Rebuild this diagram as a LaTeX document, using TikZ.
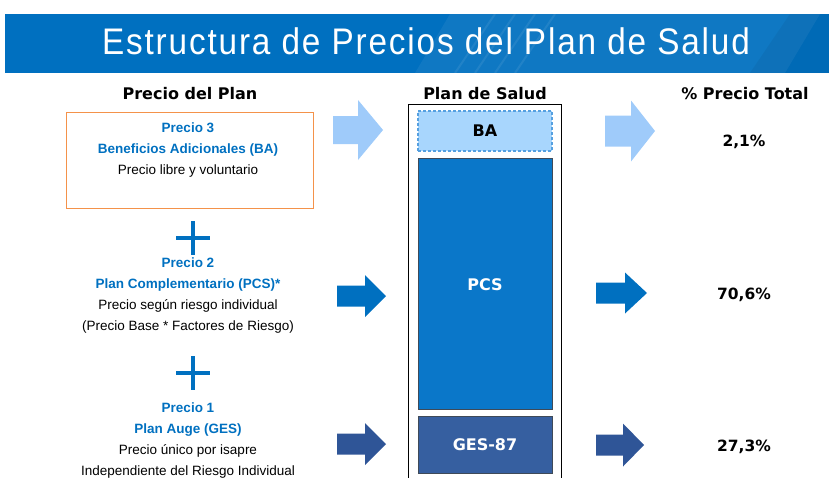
\documentclass[tikz,border=0pt]{standalone}
\usepackage{fontspec}
\setmainfont{Liberation Sans}
\newfontfamily\headfont{DejaVu Sans}
\newfontfamily\titlefont[FakeStretch=0.9, LetterSpace=5]{Liberation Sans}
\usetikzlibrary{positioning}
\definecolor{Banner}{HTML}{0070C0}
\definecolor{TextBlue}{HTML}{0070C0}
\definecolor{LightArrow}{HTML}{9FCBFA}
\definecolor{MidArrow}{HTML}{0070C0}
\definecolor{DarkArrow}{HTML}{2F5597}
\definecolor{BAFill}{HTML}{A8D6FD}
\definecolor{BALine}{HTML}{55A0E0}
\definecolor{PCSFill}{HTML}{0A77C9}
\definecolor{GESFill}{HTML}{365FA0}
\definecolor{BoxLine}{HTML}{3F4A58}
\definecolor{Frame}{HTML}{F4924A}
\tikzset{
	head/.style={font=\headfont\bfseries\fontsize{16}{19}\selectfont},
	pct/.style={font=\headfont\bfseries\fontsize{15.5}{19}\selectfont},
	block/.style={rectangle, draw=BoxLine, line width=1pt, minimum width=134, text=white, font=\headfont\bfseries\fontsize{16}{19}\selectfont},
	price/.style={align=center, inner sep=0, anchor=north, font=\fontsize{13.5}{20.7}\selectfont},
	pics/fatarrow/.style n args={4}{code={
		\fill[pic actions] (0,-#3) -- (#2,-#3) -- (#2,-#4) -- (#1,0) -- (#2,#4) -- (#2,#3) -- (0,#3) -- cycle;}},
	pics/plus/.style={code={
		\draw[line width=4.5, pic actions] (-17,0) -- (17,0) (0,-17) -- (0,17);}},
}
\newcommand{\pblue}[1]{\textcolor{TextBlue}{\bfseries #1}}
\begin{document}
\begin{tikzpicture}[x=1pt, y=-1pt]
	\useasboundingbox (0,0) rectangle (829,477);
	% banner
	\fill[Banner] (5,14) rectangle (829,73);
	\begin{scope}
		\clip (5,14) rectangle (829,73);
		\fill[white, opacity=0.06] (450,14) -- (820,14) -- (785,73) -- (415,73) -- cycle;
		\fill[black, opacity=0.05] (790,14) -- (829,14) -- (829,73) -- (750,73) -- cycle;
		\foreach \x in {455,475,495,515}
			\draw[white, opacity=0.08, line width=2] (\x,73) -- ++(40,-59);
	\end{scope}
	\node (title) [anchor=base, text=white, font=\titlefont\fontsize{37}{40}\selectfont] at (426,54) {Estructura de Precios del Plan de Salud};
	% column heads
	\node (hplan) [head] at (190,94) {Precio del Plan};
	\node (hsalud) [head] at (485,94) {Plan de Salud};
	\node (htotal) [head] at (745,94) {\% Precio Total};
	% left column
	\node (p3box) [draw=Frame, line width=1pt, minimum width=247, minimum height=96] at (189.5,160) {};
	\node (p3) [price] at (188,123) {\pblue{Precio 3}\\ \pblue{Beneficios Adicionales (BA)}\\ Precio libre y voluntario};
	\pic (plus1) [draw=TextBlue] at (193,238) {plus};
	\node (p2) [price] at (188,258) {\pblue{Precio 2}\\ \pblue{Plan Complementario (PCS)*}\\ Precio según riesgo individual\\ (Precio Base * Factores de Riesgo)};
	\pic (plus2) [draw=TextBlue] at (193,373) {plus};
	\node (p1) [price] at (188,403) {\pblue{Precio 1}\\ \pblue{Plan Auge (GES)}\\ Precio único por isapre\\ Independiente del Riesgo Individual};
	% plan de salud
	\draw[line width=1pt] (408,480) -- (408,104) -- (561,104) -- (561,480);
	\node (ba) [block, draw=BALine, dash pattern=on 3pt off 2pt, line width=1.4pt, fill=BAFill, text=black, minimum height=40] at (485,131) {BA};
	\node (pcs) [block, fill=PCSFill, minimum height=251] at (485,283.5) {};
	\node (pcslabel) [text=white, font=\headfont\bfseries\fontsize{16}{19}\selectfont] at (485,285) {PCS};
	\node (ges) [block, fill=GESFill, minimum height=57] at (485,444.5) {GES-87};
	% arrows
	\pic (la1) [fill=LightArrow] at (333,130) {fatarrow={50}{25}{14}{30}};
	\pic (la2) [fill=MidArrow] at (337,296) {fatarrow={49}{28}{10.5}{21}};
	\pic (la3) [fill=DarkArrow] at (337,444) {fatarrow={49}{28}{10.5}{21}};
	\pic (ra1) [fill=LightArrow] at (605,131) {fatarrow={50}{26}{15.5}{30.5}};
	\pic (ra2) [fill=MidArrow] at (596,293) {fatarrow={51}{29}{10.5}{20.5}};
	\pic (ra3) [fill=DarkArrow] at (596,445) {fatarrow={48}{27}{10.5}{21.5}};
	% percentages
	\node (t1) [pct] at (744,142) {2,1\%};
	\node (t2) [pct] at (744,295) {70,6\%};
	\node (t3) [pct] at (744,447) {27,3\%};
\end{tikzpicture}
\end{document}
